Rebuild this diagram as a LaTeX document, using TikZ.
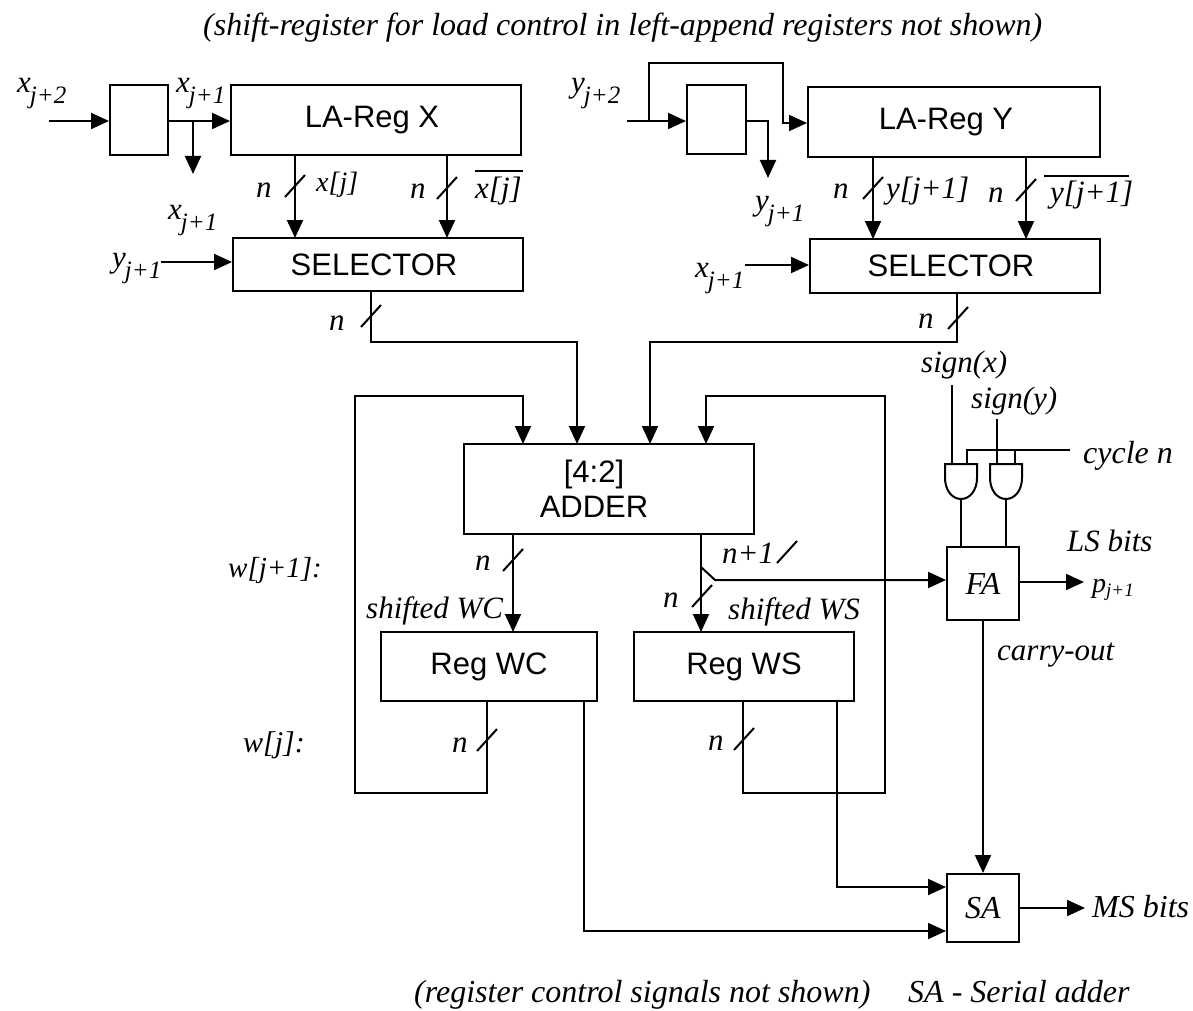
\documentclass[tikz,border=0pt]{standalone}
\usepackage{fontspec}
\setmainfont{Liberation Serif}
\setsansfont{Liberation Sans}
\usetikzlibrary{arrows.meta,calc}
\tikzset{
  x=1pt,y=-1pt,
  wire/.style={line width=2pt,line cap=butt,line join=miter},
  arr/.style={wire,-{Triangle[length=18pt,width=16pt]}},
  blk/.style={draw,line width=2pt,inner sep=0pt,font=\sffamily\fontsize{31}{35}\selectfont,align=center},
  blkit/.style={blk,font=\itshape\fontsize{32}{36}\selectfont},
  lab/.style={inner sep=0pt,anchor=base west,font=\itshape\fontsize{31}{36}\selectfont},
  tick/.style={line width=2pt},
}
\newcommand{\tickat}[2]{\draw[tick] (#1-10,#2+11) -- (#1+10,#2-11);}
\newcommand{\subs}[2]{#1\hspace{-1pt}\raisebox{-11pt}{\fontsize{25}{30}\selectfont #2}}
\begin{document}
\begin{tikzpicture}
\useasboundingbox (0,0) rectangle (1193,1011);
% boxes
\node[blk,minimum width=58pt,minimum height=70pt] (d1) at (139,120) {};
\node[blk,minimum width=290pt,minimum height=70pt] (lax) at (376,120) {LA-Reg X\hspace*{8pt}};
\node[blk,minimum width=59pt,minimum height=69pt] (d2) at (716.5,119.5) {};
\node[blk,minimum width=292pt,minimum height=70pt] (lay) at (954,122) {LA-Reg Y\hspace*{16pt}};
\node[blk,minimum width=290pt,minimum height=53pt] (s1) at (378,264.5) {SELECTOR\hspace*{8pt}};
\node[blk,minimum width=290pt,minimum height=54pt] (s2) at (955,266) {SELECTOR\hspace*{8pt}};
\node[blk,minimum width=290pt,minimum height=90pt] (add) at (609,489) {[4:2]\hspace*{30pt}\\ADDER\hspace*{30pt}};
\node[blk,minimum width=216pt,minimum height=69pt] (wc) at (489,666.5) {Reg WC};
\node[blk,minimum width=220pt,minimum height=69pt] (ws) at (744,666.5) {Reg WS};
\node[blkit,minimum width=72pt,minimum height=73pt] (fa) at (983,583.5) {FA};
\node[blkit,minimum width=72pt,minimum height=68pt] (sa) at (983,908) {SA};
% free-end coordinates
\coordinate (xin) at (49,121);
\coordinate (xout) at (193,174);
\coordinate (yin) at (627,121);
\coordinate (yout) at (768,178);
\coordinate (ysel) at (161,262);
\coordinate (xsel) at (745,265);
\coordinate (sgx) at (952,385);
\coordinate (sgy) at (997,419);
\coordinate (cyc) at (1070,450);
\coordinate (pout) at (1084,582);
\coordinate (msout) at (1085,908);
% top left
\draw[arr] (xin) -- (d1.west |- xin);
\draw[arr] (d1.east |- xin) -- (lax.west |- xin);
\draw[arr] (xout |- xin) -- (xout);
% top right
\draw[arr] (yin) -- (d2.west |- yin);
\draw[arr] (649,121) -- (649,63) -- (783,63) -- (783,123) -- (lay.west |- 0,123);
\draw[arr] (d2.east |- yin) -| (yout);
% LA to selector
\draw[arr] (295,155) -- (295,238);
\tickat{295}{186}
\draw[arr] (447,155) -- (447,238);
\tickat{447}{188}
\draw[arr] (873,157) -- (873,239);
\tickat{873}{188}
\draw[arr] (1026,157) -- (1026,239);
\tickat{1026}{190}
\draw[arr] (ysel) -- (s1.west |- ysel);
\draw[arr] (xsel) -- (s2.west |- xsel);
% selector to adder
\draw[arr] (371,291) -- (371,342) -| (577,444);
\tickat{371}{316}
\draw[arr] (957,293) -- (957,342) -| (650,444);
\tickat{958}{318}
% adder to regs
\draw[arr] (513,534) -- (513,632);
\tickat{513}{560}
\draw[arr] (701,534) -- (701,632);
\tickat{702}{596}
\draw[arr] (701,567) -- (715,580) -- (fa.west |- 0,580);
\draw[tick] (777,563) -- (797,541);
% feedback
\draw[arr] (487,701) -- (487,793) -- (355,793) -- (355,396) -| (523,444);
\tickat{487}{740}
\draw[arr] (743,701) -- (743,793) -- (885,793) -- (885,396) -| (706,444);
\tickat{744}{739}
% to SA
\draw[arr] (837,701) |- (sa.west |- 0,887);
\draw[arr] (584,701) -- (584,931) -- (sa.west |- 0,931);
% FA / SA
\draw[arr] (983,620) -- (sa.north);
\draw[arr] (fa.east |- pout) -- (pout);
\draw[arr] (sa.east) -- (msout);
% gates
\foreach \n/\l in {g1/945,g2/990}{
  \draw[wire] (\l,464) -- (\l+32,464) -- (\l+32,478) .. controls (\l+32,490) and (\l+25,499) .. (\l+16,499) .. controls (\l+7,499) and (\l,490) .. (\l,478) -- cycle;
  \coordinate (\n) at (\l+16,499);
}
\draw[wire] (sgx) -- (952,464);
\draw[wire] (sgy) -- (997,464);
\draw[wire] (cyc) -- (967,450) -- (967,464);
\draw[wire] (1015,450) -- (1015,464);
\draw[wire] (g1) -- (961,547);
\draw[wire] (g2) -- (1006,547);
% labels
\node[lab,font=\itshape\fontsize{32}{36}\selectfont] (t1) at (203,36) {(shift-register for load control in left-append registers not shown)};
\node[lab] (t2) at (17,93) {\subs{x}{j+2}};
\node[lab] (t3) at (176,93) {\subs{x}{j+1}};
\node[lab] (t4) at (571,93) {\subs{y}{j+2}};
\node[lab] (t5) at (755,210) {\subs{y}{j+1}};
\node[lab] (t6) at (168,219) {\subs{x}{j+1}};
\node[lab] (t7) at (112,267) {\subs{y}{j+1}};
\node[lab] (t8) at (695,277) {\subs{x}{j+1}};
\node[lab] (n1) at (256,197) {n};
\node[lab,font=\itshape\fontsize{28}{30}\selectfont] (l1) at (316,191) {x[j]};
\node[lab] (n2) at (410,198) {n};
\node[lab] (l2) at (475,198) {\rlap{\raisebox{26pt}{\rule{48pt}{2pt}}}x[j]};
\node[lab] (n3) at (833,198) {n};
\node[lab] (l3) at (886,198) {y[j+1]};
\node[lab] (n4) at (988,202) {n};
\node[lab] (l4) at (1050,203) {\rlap{\hspace*{-6pt}\raisebox{26pt}{\rule{85pt}{2pt}}}y[j+1]};
\node[lab] (n5) at (329,330) {n};
\node[lab] (n6) at (918,328) {n};
\begin{scope}
\clip (900,340) rectangle (1030,378);
\node[lab] (l5) at (921,372) {sign(x)};
\end{scope}
\node[lab] (l6) at (971,408) {sign(y)};
\node[lab,font=\itshape\fontsize{32}{36}\selectfont] (l7) at (1083,463) {cycle n};
\node[lab] (l8) at (1067,551) {LS bits};
\node[lab] (l9) at (1092,592) {\fontsize{28}{30}\selectfont p\raisebox{-4pt}{\fontsize{19}{21}\selectfont j+1}};
\node[lab,font=\itshape\fontsize{29}{36}\selectfont] (l10) at (228,577) {w[j+1]:};
\node[lab,font=\itshape\fontsize{30}{36}\selectfont] (l11) at (243,752) {w[j]:};
\node[lab] (n7) at (475,570) {n};
\node[lab] (l12) at (366,618) {shifted WC};
\node[lab] (n8) at (663,607) {n};
\node[lab] (l13) at (722,563) {n+1};
\node[lab] (l14) at (728,619) {shifted WS};
\node[lab] (l15) at (997,660) {carry-out};
\node[lab] (n9) at (452,752) {n};
\node[lab] (n10) at (708,750) {n};
\node[lab,font=\itshape\fontsize{32}{36}\selectfont] (l16) at (1092,917) {MS bits};
\node[lab,font=\itshape\fontsize{32}{36}\selectfont] (l17) at (414,1002) {(register control signals not shown)};
\node[lab,font=\itshape\fontsize{32}{36}\selectfont] (l18) at (908,1002) {SA - Serial adder};
\end{tikzpicture}
\end{document}
